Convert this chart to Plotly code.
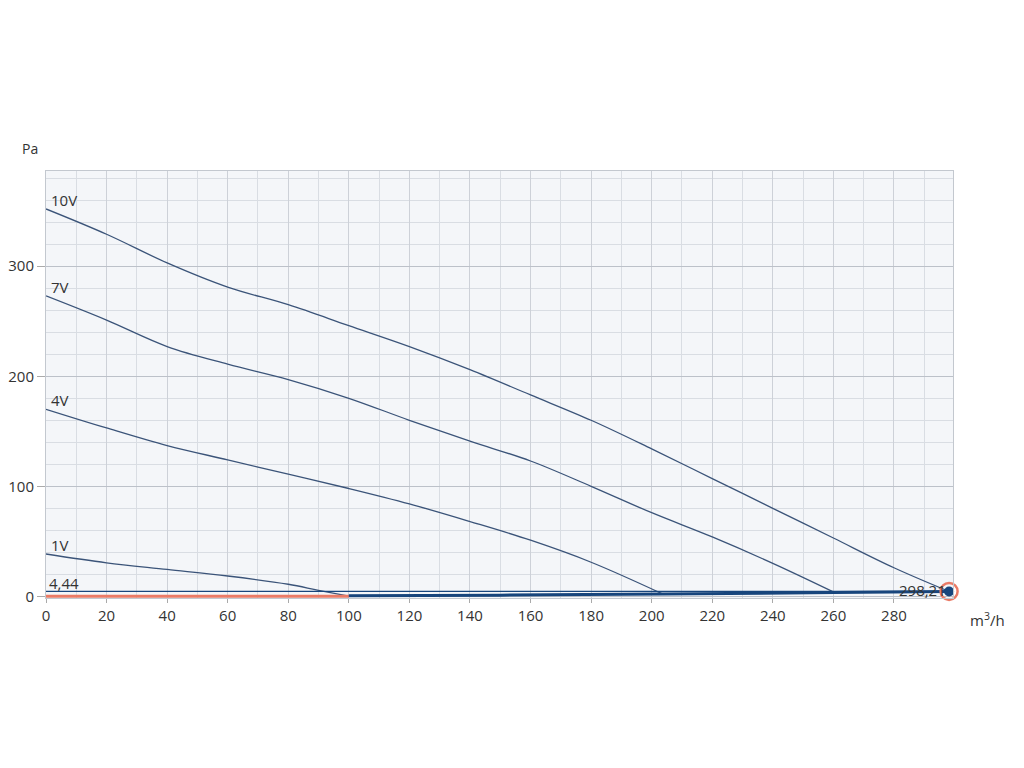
import plotly.graph_objects as go

# Courbes ventilateur (débit m³/h, pression Pa)
q_10v = [0, 20, 40, 60, 80, 100, 120, 140, 160, 180, 200, 220, 240, 260, 280, 298.21]
p_10v = [352, 329, 303, 281, 265, 246, 227, 206, 183, 160, 134, 107, 80, 53, 26, 4.44]

q_7v = [0, 20, 40, 60, 80, 100, 120, 140, 160, 180, 200, 220, 240, 260.5]
p_7v = [273, 251, 227, 211, 197, 180, 160, 141, 123, 100, 76, 54, 30, 3.4]

q_4v = [0, 20, 40, 60, 80, 100, 120, 140, 160, 180, 203.7]
p_4v = [170, 153, 137, 124, 111, 98, 84, 68, 51, 31, 2.1]

q_1v = [0, 20, 40, 60, 80, 90, 100]
p_1v = [38.5, 30.5, 24.5, 18.5, 11, 5.5, 0.3]

# Courbe réseau et point de fonctionnement
q_sys = [100, 150, 203.7, 260.5, 298.21]
p_sys = [0.5, 1.1, 2.1, 3.4, 4.44]
q_min = [0, 100]
p_min = [0, 0]
q_work = 298.21
p_work = 4.44

curves = [("10V", q_10v, p_10v), ("7V", q_7v, p_7v), ("4V", q_4v, p_4v), ("1V", q_1v, p_1v)]

line_col = '#3b5479'
navy = '#17457c'
salmon = '#ea7b66'

fig = go.Figure()

for name, q, p in curves:
    fig.add_trace(go.Scatter(x=q, y=p, mode='lines', line=dict(color=line_col, width=1.3, smoothing=1.0),
                             line_shape='spline', hoverinfo='skip'))
    fig.add_annotation(x=q[0], y=p[0], text=name, showarrow=False, xanchor='left', yanchor='bottom',
                       xshift=3, yshift=-3, font=dict(size=15, color='#333333'))

# ligne horizontale à la pression de fonctionnement
fig.add_trace(go.Scatter(x=[0, q_work], y=[p_work, p_work], mode='lines',
                         line=dict(color=navy, width=1.2), hoverinfo='skip'))
fig.add_annotation(x=0, y=p_work, text="4,44", showarrow=False, xanchor='left', yanchor='bottom',
                   xshift=1, yshift=-4, font=dict(size=15, color='#333333'))

fig.add_trace(go.Scatter(x=q_min, y=p_min, mode='lines', line=dict(color=salmon, width=3),
                         hoverinfo='skip'))
fig.add_trace(go.Scatter(x=q_sys, y=p_sys, mode='lines', line=dict(color=navy, width=3),
                         line_shape='spline', hoverinfo='skip'))

fig.add_annotation(x=q_work, y=p_work, text="298,21", showarrow=False, xanchor='right', yanchor='middle',
                   xshift=-1, yshift=1, font=dict(size=15, color='#333333'))
fig.add_trace(go.Scatter(x=[q_work], y=[p_work], mode='markers', cliponaxis=False,
                         marker=dict(size=17, color='rgba(0,0,0,0)', line=dict(color=salmon, width=2.5))))
fig.add_trace(go.Scatter(x=[q_work], y=[p_work], mode='markers', cliponaxis=False,
                         marker=dict(size=10, color=navy)))

fig.add_annotation(x=-0.018, y=1.08, xref='paper', yref='paper', text="Pa", showarrow=False,
                   xanchor='center', font=dict(size=14, color='#333333'))
fig.add_annotation(x=1.038, y=-0.05, xref='paper', yref='paper', text="m<sup>3</sup>/h", showarrow=False,
                   xanchor='center', yanchor='middle', font=dict(size=15, color='#333333'))

fig.update_layout(
    width=1008, height=752,
    margin=dict(l=38, r=63, t=163, b=162, autoexpand=False),
    paper_bgcolor='white',
    plot_bgcolor='#f4f6f9',
    showlegend=False,
    font=dict(family='Open Sans', size=15, color='#333333'),
    xaxis=dict(range=[0, 299.5], dtick=20, tick0=0, showgrid=True, gridcolor='#cdd1d8', gridwidth=1,
               minor=dict(dtick=10, showgrid=True, gridcolor='#d9dde3'),
               zeroline=False, showline=True, linecolor='#c3c8cf', mirror=True, automargin=False,
               ticks='outside', ticklen=4, tickcolor='#aaaaaa', fixedrange=True),
    yaxis=dict(range=[-1.5, 386.5], dtick=100, tick0=0, showgrid=True, gridcolor='#bcc1c9', gridwidth=1,
               minor=dict(dtick=20, showgrid=True, gridcolor='#d9dde3'),
               zeroline=False, showline=True, linecolor='#c3c8cf', mirror=True, automargin=False,
               ticks='outside', ticklen=8, tickcolor='#aaaaaa', fixedrange=True),
)

fig.write_html("out.html")
